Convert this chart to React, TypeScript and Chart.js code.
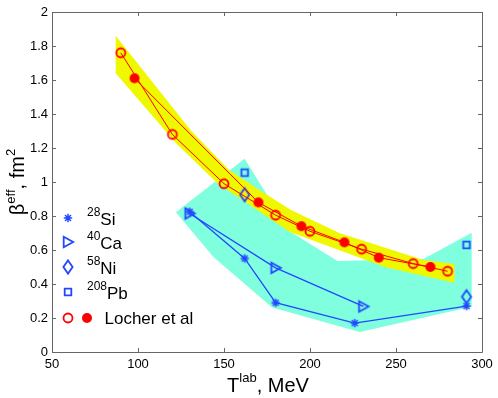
import React, { useEffect, useRef } from 'react';
import { Chart, registerables } from 'chart.js';

Chart.register(...registerables);

const FONT = '"Liberation Sans", Arial, Helvetica, sans-serif';

// ---- axis ticks ----
const xTickValues = [50, 100, 150, 200, 250, 300];
const yTickValues = [0, 0.2, 0.4, 0.6, 0.8, 1, 1.2, 1.4, 1.6, 1.8, 2];

// ---- data ----
const locherOpenT = [90, 120, 150, 180, 200, 230, 260, 280];
const locherOpenB = [1.76, 1.28, 0.99, 0.805, 0.71, 0.605, 0.52, 0.475];
const locherFilledT = [98, 170, 195, 220, 240, 270];
const locherFilledB = [1.61, 0.88, 0.74, 0.645, 0.555, 0.5];
const siT = [130, 162, 180, 226, 291];
const siB = [0.825, 0.55, 0.29, 0.17, 0.27];
const caT = [130, 180, 231];
const caB = [0.815, 0.495, 0.268];
const niT = [162, 291];
const niB = [0.925, 0.325];
const pbT = [162, 291];
const pbB = [1.055, 0.63];

// ---- bands (polygon outlines) ----
const yellowBandT = [87, 131, 153, 171, 189, 217, 266, 284, 284, 244, 188, 146, 122, 87, 87];
const yellowBandB = [1.86, 1.3, 1.07, 0.95, 0.836, 0.7, 0.541, 0.517, 0.407, 0.498, 0.708, 0.994, 1.23, 1.64, 1.86];
const cyanBandT = [122, 162, 188, 216, 266, 294, 294, 229, 178, 144, 122];
const cyanBandB = [0.822, 1.137, 0.712, 0.535, 0.547, 0.702, 0.266, 0.118, 0.262, 0.557, 0.822];

// ---- legend ----
const legendMass = ['28', '40', '58', '208'];
const legendElement = ['Si', 'Ca', 'Ni', 'Pb'];
const legendLocher = 'Locher et al';

const RED = '#ff0000';
const BLUE = '#2448ff';
const YELLOW = 'rgb(240,248,0)';
const CYAN = 'rgb(127,255,222)';
const AXIS = '#666666';

const pts = (xs: number[], ys: number[]) => xs.map((x, i) => ({ x, y: ys[i] }));

function makeMarker(kind: string, color: string): HTMLCanvasElement {
  const c = document.createElement('canvas');
  const w = kind === 'diamond' ? 14 : 16;
  const h = kind === 'diamond' ? 18 : 16;
  c.width = w;
  c.height = h;
  const g = c.getContext('2d')!;
  const cx = w / 2;
  const cy = h / 2;
  g.strokeStyle = color;
  g.fillStyle = color;
  g.lineWidth = 1.8;
  g.beginPath();
  if (kind === 'star') {
    g.lineWidth = 1.5;
    const r = 4.2;
    for (let k = 0; k < 4; k++) {
      const a = (k * Math.PI) / 4;
      g.moveTo(cx + r * Math.cos(a), cy + r * Math.sin(a));
      g.lineTo(cx - r * Math.cos(a), cy - r * Math.sin(a));
    }
    g.stroke();
  } else if (kind === 'tri') {
    g.moveTo(cx - 4.3, cy - 5.3);
    g.lineTo(cx + 5.2, cy);
    g.lineTo(cx - 4.3, cy + 5.3);
    g.closePath();
    g.stroke();
  } else if (kind === 'diamond') {
    g.moveTo(cx, cy - 6.6);
    g.lineTo(cx + 4.6, cy);
    g.lineTo(cx, cy + 6.6);
    g.lineTo(cx - 4.6, cy);
    g.closePath();
    g.stroke();
  } else if (kind === 'square') {
    g.rect(cx - 3.3, cy - 3.3, 6.6, 6.6);
    g.stroke();
  } else if (kind === 'ocircle') {
    g.arc(cx, cy, 4.5, 0, Math.PI * 2);
    g.stroke();
  } else if (kind === 'fcircle') {
    g.arc(cx, cy, 5, 0, Math.PI * 2);
    g.fill();
  }
  return c;
}

type Part = { t: string; size: number; dy: number };

function measure(ctx: CanvasRenderingContext2D, parts: Part[]) {
  return parts.map((p) => {
    ctx.font = `${p.size}px ${FONT}`;
    return ctx.measureText(p.t).width;
  });
}

function drawRich(ctx: CanvasRenderingContext2D, parts: Part[], x0: number, baseline: number, center: boolean) {
  const widths = measure(ctx, parts);
  const total = widths.reduce((a, b) => a + b, 0);
  let x = center ? x0 - total / 2 : x0;
  ctx.textAlign = 'left';
  ctx.textBaseline = 'alphabetic';
  parts.forEach((p, i) => {
    ctx.font = `${p.size}px ${FONT}`;
    ctx.fillText(p.t, x, baseline - p.dy);
    x += widths[i];
  });
}

export default function App() {
  const ref = useRef<HTMLCanvasElement>(null);

  useEffect(() => {
    document.body.style.margin = '0';
    const mk = {
      star: makeMarker('star', BLUE),
      tri: makeMarker('tri', BLUE),
      diamond: makeMarker('diamond', BLUE),
      square: makeMarker('square', BLUE),
      ocircle: makeMarker('ocircle', RED),
      fcircle: makeMarker('fcircle', RED),
    };

    const decor = {
      id: 'decor',
      afterDraw(chart: any) {
        const { ctx, chartArea: a, scales } = chart;
        const xs = scales.x;
        const ys = scales.y;
        ctx.save();
        // box
        ctx.strokeStyle = AXIS;
        ctx.lineWidth = 1;
        ctx.beginPath();
        ctx.rect(a.left + 0.5, a.top + 0.5, a.right - a.left, a.bottom - a.top);
        ctx.stroke();
        // inward ticks
        ctx.beginPath();
        xTickValues.forEach((v) => {
          const px = Math.round(xs.getPixelForValue(v)) + 0.5;
          ctx.moveTo(px, a.bottom);
          ctx.lineTo(px, a.bottom - 4);
          ctx.moveTo(px, a.top);
          ctx.lineTo(px, a.top + 4);
        });
        yTickValues.forEach((v) => {
          const py = Math.round(ys.getPixelForValue(v)) + 0.5;
          ctx.moveTo(a.left, py);
          ctx.lineTo(a.left + 4, py);
          ctx.moveTo(a.right, py);
          ctx.lineTo(a.right - 4, py);
        });
        ctx.stroke();

        ctx.fillStyle = '#000';
        // x title
        drawRich(
          ctx,
          [
            { t: 'T', size: 20, dy: 0 },
            { t: 'lab', size: 13, dy: 10 },
            { t: ', MeV', size: 20, dy: 0 },
          ],
          (a.left + a.right) / 2 + 1,
          391.5,
          true
        );
        // y title
        ctx.save();
        ctx.translate(24, (a.top + a.bottom) / 2);
        ctx.rotate(-Math.PI / 2);
        drawRich(
          ctx,
          [
            { t: 'β', size: 20, dy: 0 },
            { t: 'eff', size: 13, dy: 9 },
            { t: ', fm', size: 20, dy: 0 },
            { t: '2', size: 13, dy: 9 },
          ],
          0,
          0,
          true
        );
        ctx.restore();

        // legend
        const icons = [mk.star, mk.tri, mk.diamond, mk.square];
        const rowY = [218, 242, 267, 292];
        icons.forEach((ic, i) => {
          ctx.drawImage(ic, 68 - ic.width / 2, rowY[i] - ic.height / 2);
          drawRich(
            ctx,
            [
              { t: legendMass[i], size: 12, dy: 9 },
              { t: legendElement[i], size: 17, dy: 0 },
            ],
            87,
            rowY[i] + 6.5,
            false
          );
        });
        const ly = 318;
        ctx.drawImage(mk.ocircle, 68 - 8, ly - 8);
        ctx.drawImage(mk.fcircle, 87 - 8, ly - 8);
        drawRich(ctx, [{ t: legendLocher, size: 17, dy: 0 }], 104.5, ly + 5.5, false);
        ctx.restore();
      },
    };

    const chart = new Chart(ref.current!, {
      type: 'line',
      data: {
        datasets: [
          {
            label: 'cyan band',
            data: pts(cyanBandT, cyanBandB),
            fill: 'shape',
            backgroundColor: CYAN,
            borderWidth: 0,
            borderColor: 'rgba(0,0,0,0)',
            pointRadius: 0,
            tension: 0,
            order: 10,
          },
          {
            label: 'yellow band',
            data: pts(yellowBandT, yellowBandB),
            fill: 'shape',
            backgroundColor: YELLOW,
            borderWidth: 0,
            borderColor: 'rgba(0,0,0,0)',
            pointRadius: 0,
            tension: 0,
            order: 9,
          },
          {
            label: '28Si',
            data: pts(siT, siB),
            borderColor: BLUE,
            borderWidth: 1.3,
            pointStyle: mk.star,
            pointRadius: 5,
            fill: false,
            order: 5,
          },
          {
            label: '40Ca',
            data: pts(caT, caB),
            borderColor: BLUE,
            borderWidth: 1.3,
            pointStyle: mk.tri,
            pointRadius: 5,
            fill: false,
            order: 5,
          },
          {
            label: '58Ni',
            data: pts(niT, niB),
            showLine: false,
            pointStyle: mk.diamond,
            pointRadius: 5,
            fill: false,
            order: 4,
          },
          {
            label: '208Pb',
            data: pts(pbT, pbB),
            showLine: false,
            pointStyle: mk.square,
            pointRadius: 5,
            fill: false,
            order: 4,
          },
          {
            label: 'Locher et al (open)',
            data: pts(locherOpenT, locherOpenB),
            borderColor: RED,
            borderWidth: 1,
            pointStyle: mk.ocircle,
            pointRadius: 5,
            fill: false,
            order: 2,
          },
          {
            label: 'Locher et al (filled)',
            data: pts(locherFilledT, locherFilledB),
            borderColor: RED,
            borderWidth: 1,
            pointStyle: mk.fcircle,
            pointRadius: 5,
            fill: false,
            order: 1,
          },
        ],
      },
      options: {
        animation: false,
        responsive: false,
        devicePixelRatio: 1,
        layout: { padding: { top: 12, right: 16, left: 0, bottom: 0 } },
        plugins: { legend: { display: false }, tooltip: { enabled: false } },
        elements: { line: { tension: 0 } },
        scales: {
          x: {
            type: 'linear',
            min: 50,
            max: 300,
            afterBuildTicks: (s: any) => {
              s.ticks = xTickValues.map((v) => ({ value: v }));
            },
            afterFit: (s: any) => {
              s.height = 46;
            },
            grid: { display: false, drawTicks: false },
            border: { display: false },
            ticks: {
              padding: 5,
              color: '#000',
              font: { family: FONT, size: 13 },
              maxRotation: 0,
              callback: (v: any) => String(v),
            },
          },
          y: {
            type: 'linear',
            min: 0,
            max: 2,
            afterBuildTicks: (s: any) => {
              s.ticks = yTickValues.map((v) => ({ value: v }));
            },
            afterFit: (s: any) => {
              s.width = 52;
            },
            grid: { display: false, drawTicks: false },
            border: { display: false },
            ticks: {
              padding: 4,
              color: '#000',
              font: { family: FONT, size: 13 },
              callback: (v: any) => String(Math.round(Number(v) * 10) / 10),
            },
          },
        },
      },
      plugins: [decor],
    } as any);

    return () => chart.destroy();
  }, []);

  return <canvas ref={ref} width={498} height={398} style={{ display: 'block', width: 498, height: 398 }} />;
}
